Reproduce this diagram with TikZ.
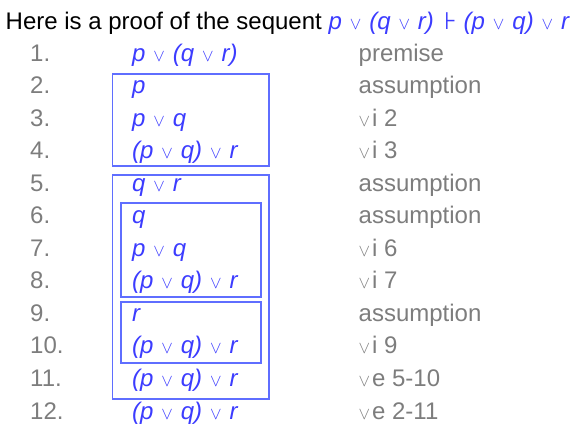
\documentclass[tikz,border=0pt]{standalone}
\usepackage{fontspec}
\setmainfont{Liberation Sans}
\newfontfamily\dejavu{DejaVu Sans}
\definecolor{fblue}{RGB}{60,60,255}
\definecolor{boxblue}{RGB}{95,110,255}
\definecolor{jgray}{RGB}{125,125,125}
\newcommand\myorsym{{\fontsize{16}{16}\selectfont$\vee$}}
\newcommand\myor{\hspace{0.33em}\myorsym\hspace{0.33em}}
\newcommand\myorj{\myorsym\hspace{0.08em}}
\newcommand\fm[1]{{\itshape #1}}
\tikzset{
  base/.style={inner sep=0pt, anchor=base west, font=\fontsize{24}{24}\selectfont},
  num/.style={base, text=jgray},
  form/.style={base, text=fblue},
  just/.style={base, text=jgray},
  proofbox/.style={draw=boxblue, line width=1.3pt},
}
\begin{document}
\begin{tikzpicture}[x=1pt,y=-1pt]
\useasboundingbox (0,0) rectangle (583,442);
\node[base] (title) at (5.5,29) {Here is a proof of the sequent \textcolor{fblue}{\fm{p\myor(q\myor r)}\hspace{0.42em}{\dejavu\upshape ⊦}\hspace{0.3em}\fm{(p\myor q)\myor r}}};
\foreach \i/\f/\j in {
 1/{p\myor(q\myor r)}/premise,
 2/{p}/assumption,
 3/{p\myor q}/{\myorj i 2},
 4/{(p\myor q)\myor r}/{\myorj i 3},
 5/{q\myor r}/assumption,
 6/{q}/assumption,
 7/{p\myor q}/{\myorj i 6},
 8/{(p\myor q)\myor r}/{\myorj i 7},
 9/{r}/assumption,
 10/{(p\myor q)\myor r}/{\myorj i 9},
 11/{(p\myor q)\myor r}/{\myorj e 5-10},
 12/{(p\myor q)\myor r}/{\myorj e 2-11}}{
  \pgfmathsetmacro\yy{61+(\i-1)*32.55}
  \node[num] (n\i) at (30,\yy) {\i.};
  \node[form] (f\i) at (132,\yy) {\fm{\f}};
  \node[just] (j\i) at (358.5,\yy) {\j};
}
\draw[proofbox] (112.5,74) rectangle (269,166);
\draw[proofbox] (112.5,175) rectangle (269,399);
\draw[proofbox] (121,203) rectangle (261,297);
\draw[proofbox] (121,302) rectangle (261,363);
\end{tikzpicture}
\end{document}
